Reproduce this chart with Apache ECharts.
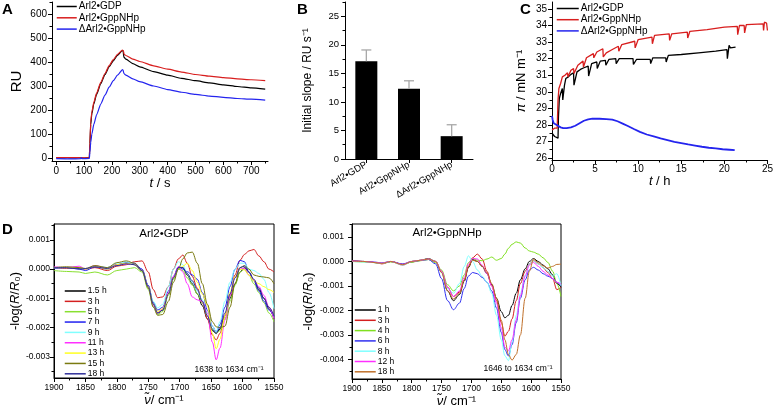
<!DOCTYPE html>
<html><head><meta charset="utf-8">
<script src="https://cdn.jsdelivr.net/npm/echarts@6/dist/echarts.min.js"></script>
<style>html,body{margin:0;padding:0;background:#fff}#c{width:776px;height:411px}</style>
</head><body><div id="c"></div>
<script>
// ---------------- DATA ----------------
const NAMES_AC = ['Arl2•GDP', 'Arl2•GppNHp', 'ΔArl2•GppNHp'];
const COLORS_AC = ['#000000', '#d81e1e', '#2424ee'];

// Panel A: RU vs t (s)
const A_GDP = [[0,1],[20,0],[40,1],[60,0],[80,1],[100,0],[119,1],[121,60],[124,140],[128,185],[135,225],[145,265],[160,310],[175,348],[190,380],[205,405],[220,428],[238,448],[240,446],[243,420],[250,412],[275,393],[300,380],[350,360],[400,345],[450,332],[500,322],[550,313],[600,305],[650,298],[700,292],[750,287]];
const A_GppNHp = [[0,2],[50,2],[100,1],[119,1],[121,65],[124,150],[128,192],[135,232],[145,270],[160,315],[175,352],[190,385],[205,410],[220,432],[238,450],[241,447],[244,432],[250,427],[275,412],[300,402],[350,384],[400,370],[450,358],[500,348],[550,341],[600,335],[650,330],[700,326],[750,322]];
const A_dGppNHp = [[0,-3],[50,-4],[88,-3],[90,2],[92,-3],[119,-2],[121,25],[124,65],[128,100],[135,140],[145,180],[160,225],[175,262],[190,295],[205,322],[220,345],[238,368],[240,366],[243,352],[250,345],[275,330],[300,318],[350,300],[400,285],[450,274],[500,265],[550,258],[600,253],[650,248],[700,245],[750,241]];
const A_xTicks = [0,100,200,300,400,500,600,700];
const A_xMinor = [50,150,250,350,450,550,650,750];
const A_yTicks = [0,100,200,300,400,500,600];
const A_yMinor = [50,150,250,350,450,550,650];

// Panel B: initial slope
const B_categories = ['Arl2•GDP', 'Arl2•GppNHp', 'ΔArl2•GppNHp'];
const B_values = [17.1, 12.3, 4.0];
const B_errors = [2.0, 1.4, 2.0];
const B_yTicks = [0,5,10,15,20,25];
const B_yMinor = [2.5,7.5,12.5,17.5,22.5,27.5];

// Panel C: surface pressure vs t (h)
const C_GDP = [[0,27.5],[0.15,27.4],[0.3,27.3],[0.5,27.25],[0.7,27.2],[0.75,28.5],[0.85,29.6],[1.0,29.9],[1.2,30.2],[1.25,29.5],[1.45,30.4],[1.6,30.8],[1.9,30.9],[2.2,31.05],[2.5,31.15],[2.55,30.4],[2.9,31.2],[3.3,31.35],[3.7,31.45],[4.2,31.55],[4.25,30.95],[4.6,31.7],[5.2,31.8],[5.25,31.4],[5.6,31.85],[6.2,31.9],[6.25,31.6],[6.6,31.95],[7.4,32.0],[7.45,31.7],[7.8,32.0],[8.5,32.0],[9.4,32.0],[9.45,31.65],[9.8,31.95],[11.4,31.95],[11.45,31.7],[11.7,32.05],[13.2,32.05],[13.25,31.8],[13.5,32.2],[15,32.25],[17,32.35],[19,32.45],[20.3,32.55],[20.35,32.0],[20.55,32.8],[20.7,32.65],[21.3,32.7]];
const C_GppNHp = [[0,27.7],[0.3,27.8],[0.6,27.8],[0.7,29.5],[0.8,30.2],[1.0,30.5],[1.2,30.9],[1.5,31.0],[1.8,31.15],[1.85,30.9],[2.2,31.3],[2.5,31.4],[2.55,31.1],[3.0,31.6],[3.6,31.85],[3.65,31.5],[4.0,32.05],[4.8,32.3],[4.85,32.05],[5.2,32.4],[5.9,32.6],[5.95,32.1],[6.3,32.35],[7.0,32.55],[7.7,32.75],[7.75,32.45],[8.1,32.85],[9.6,33.05],[9.65,32.65],[10.0,33.15],[11.6,33.3],[11.65,32.9],[11.9,33.4],[13.6,33.5],[13.65,33.1],[13.9,33.5],[15.7,33.6],[15.75,33.25],[16.0,33.65],[18,33.75],[20,33.9],[21.5,33.95],[21.55,33.45],[21.75,34.0],[22.3,34.0],[22.35,33.55],[22.55,34.05],[24.5,34.1],[24.55,33.7],[24.65,34.2],[24.9,34.15],[25,33.7]];
const C_dGppNHp = [[0,28.55],[0.08,28.3],[0.2,28.1],[0.4,28.0],[0.7,27.95],[1.0,27.85],[1.3,27.8],[1.7,27.8],[2.2,27.85],[2.7,27.95],[3.2,28.1],[3.7,28.25],[4.2,28.33],[4.7,28.38],[5.5,28.37],[6.3,28.35],[7.0,28.32],[7.6,28.22],[8.2,28.08],[8.8,27.93],[9.5,27.75],[10.2,27.58],[11,27.42],[11.8,27.3],[12.6,27.18],[13.4,27.08],[14.2,26.98],[15,26.9],[15.8,26.82],[16.6,26.75],[17.4,26.68],[18.2,26.62],[19,26.58],[19.8,26.53],[20.6,26.5],[21.2,26.47]];
const C_xTicks = [0,5,10,15,20,25];
const C_xMinor = [2.5,7.5,12.5,17.5,22.5];
const C_yTicks = [26,27,28,29,30,31,32,33,34,35];
const C_yMinor = [26.5,27.5,28.5,29.5,30.5,31.5,32.5,33.5,34.5];

// Panel D: Arl2•GDP IRRA spectra
const D_WN = [1900,1880,1860,1850,1835,1815,1800,1785,1772,1760,1750,1742,1735,1727,1718,1710,1702,1695,1688,1680,1672,1664,1656,1648,1642,1636,1628,1620,1612,1604,1597,1590,1582,1574,1566,1558,1550];
const D_names = ['1.5 h','3 h','5 h','7 h','9 h','11 h','13 h','15 h','18 h'];
const D_colors = ['#000000','#d42020','#88e030','#2020f0','#80ffff','#ff30ff','#ffff20','#7a7a10','#30309a'];
const D_1_5h = [0.00005,0.00005,0.00002,0.0,0.00008,0.00005,0.00015,0.0002,0.00015,-0.00005,-0.0006,-0.0012,-0.0015,-0.0014,-0.00085,-0.0003,0.00005,0.00005,-0.0002,-0.0005,-0.00085,-0.00125,-0.0017,-0.0021,-0.0022,-0.00205,-0.0016,-0.001,-0.0005,-0.0001,0.00005,-0.0001,-0.0004,-0.0007,-0.001,-0.00135,-0.0017];
const D_3h = [0.00005,0.00002,0.00005,0.0,0.00005,-0.00005,0.0001,0.00015,0.00025,0.00028,-0.0001,-0.0007,-0.00098,-0.00095,-0.0006,0.0,0.00035,0.00048,0.0002,-0.00025,-0.00065,-0.00115,-0.0017,-0.00225,-0.00242,-0.0022,-0.0016,-0.0009,-0.0002,0.0003,0.0005,0.00062,0.00067,0.00045,0.00025,0.0,-0.0001];
const D_5h = [-0.00005,-0.00008,-0.0001,-0.00015,-0.0001,-0.0002,-0.00005,0.0,0.00005,-0.0001,-0.0007,-0.0013,-0.00155,-0.00145,-0.0009,-0.00035,0.0,-0.00005,-0.0003,-0.00055,-0.00085,-0.00115,-0.0016,-0.00205,-0.0022,-0.0021,-0.0017,-0.0011,-0.00055,-0.0001,0.0,-0.0002,-0.0005,-0.0008,-0.00115,-0.0015,-0.0018];
const D_7h = [0.00002,0.00005,0.0,-0.00005,0.00008,0.0,0.00015,0.00022,0.0002,0.0,-0.00055,-0.00115,-0.0014,-0.0013,-0.00075,-0.00025,0.00008,0.0,-0.00009,-0.0002,-0.00035,-0.0008,-0.0014,-0.00195,-0.00214,-0.0019,-0.0013,-0.0006,0.0,0.0003,0.00025,-0.0001,-0.0004,-0.00075,-0.0011,-0.0014,-0.00163];
const D_9h = [0.00005,0.00005,0.00005,0.0,0.0001,0.00005,0.0002,0.00025,0.00015,-0.00005,-0.0006,-0.0011,-0.00133,-0.0012,-0.0006,0.0,0.00025,0.00015,-0.00015,-0.00045,-0.00075,-0.00105,-0.0015,-0.00195,-0.00214,-0.0018,-0.0011,-0.00045,0.0,0.0002,0.0002,0.0,-0.00005,-0.00015,-0.00035,-0.0008,-0.00135];
const D_11h = [0.00008,0.00005,0.0001,0.0,0.00012,0.00002,0.00015,0.00018,0.00015,-0.00005,-0.0006,-0.00125,-0.0015,-0.00135,-0.0008,-0.00025,0.00008,-0.0001,-0.0005,-0.00095,-0.00105,-0.0011,-0.0015,-0.0025,-0.0031,-0.0027,-0.00175,-0.0009,-0.0003,0.0,0.00003,-0.0002,-0.00037,-0.0006,-0.0009,-0.0013,-0.0017];
const D_13h = [0.00005,0.00005,0.00005,0.0,0.0001,0.0,0.00015,0.0002,0.00015,-0.00005,-0.0006,-0.0012,-0.00145,-0.00135,-0.00085,-0.0003,0.0,0.0001,0.0002,-0.00005,-0.00045,-0.00085,-0.00125,-0.0022,-0.00272,-0.0024,-0.0016,-0.0008,-0.00025,0.0,-0.00003,-0.0002,-0.0004,-0.0005,-0.0006,-0.0007,-0.0008];
const D_15h = [0.00005,0.00008,0.00005,0.00002,0.00012,0.00005,0.00022,0.00028,0.0002,-0.00005,-0.00065,-0.0013,-0.00158,-0.00155,-0.0011,-0.00045,0.0,0.00035,0.00055,0.00058,0.0002,-0.0005,-0.0012,-0.0018,-0.00197,-0.002,-0.00195,-0.0013,-0.0005,0.00005,0.00012,0.0,-0.0002,-0.00025,-0.00027,-0.0003,-0.0005];
const D_18h = [0.00005,0.00005,0.0,0.00002,0.00008,0.00002,0.00012,0.00018,0.00015,-0.00005,-0.0006,-0.0012,-0.0015,-0.0014,-0.00085,-0.0003,0.00005,0.00005,-0.00015,-0.0004,-0.0007,-0.0011,-0.0016,-0.00205,-0.0022,-0.002,-0.0015,-0.00085,-0.0003,0.00005,0.0001,-0.0001,-0.00035,-0.00065,-0.001,-0.0013,-0.0016];
const D_series = [D_1_5h, D_3h, D_5h, D_7h, D_9h, D_11h, D_13h, D_15h, D_18h];

// Panel E: Arl2•GppNHp IRRA spectra
const E_WN = [1900,1880,1860,1850,1835,1815,1800,1785,1772,1760,1750,1740,1730,1720,1712,1705,1698,1690,1682,1674,1666,1658,1650,1644,1638,1632,1625,1618,1610,1603,1596,1588,1580,1572,1564,1557,1550];
const E_names = ['1 h','3 h','4 h','6 h','8 h','12 h','18 h'];
const E_colors = ['#000000','#d42020','#80e020','#3030f0','#80ffff','#ff30ff','#c0702a'];
const E_1h = [0.00002,0.0,-0.00005,-0.00008,0.0,-0.00012,-0.00002,0.00005,0.00012,0.0,-0.00045,-0.0012,-0.0016,-0.00135,-0.0008,-0.00025,0.00008,0.0,-0.0002,-0.0005,-0.00095,-0.0015,-0.00205,-0.0023,-0.0022,-0.0018,-0.0013,-0.00075,-0.0003,0.0,0.00012,0.0,-0.00015,-0.0003,-0.00055,-0.0009,-0.00105];
const E_3h = [0.00003,0.0,-0.00005,-0.0001,0.0,-0.00015,0.0,0.00005,0.0001,0.0,-0.0004,-0.00105,-0.00143,-0.00125,-0.00075,-0.0002,0.00015,0.0003,0.0001,-0.0004,-0.001,-0.0016,-0.0025,-0.00305,-0.00285,-0.00235,-0.0016,-0.0009,-0.0004,-0.0001,0.00003,-0.0001,-0.00025,-0.00045,-0.0007,-0.00115,-0.00105];
const E_4h = [0.0,-0.00002,-0.00005,-0.00008,-0.00002,-0.00012,-0.00003,0.00003,0.00008,-0.00005,-0.00035,-0.00095,-0.0012,-0.001,-0.00055,-0.00005,0.00012,0.00005,0.00003,0.0001,0.00018,0.00005,0.00012,0.0003,0.00054,0.0007,0.0008,0.00075,0.00055,0.00043,0.00038,0.0003,0.00015,-0.00004,-0.0004,-0.0009,-0.00143];
const E_6h = [0.00003,0.0,-0.00003,-0.00006,0.0,-0.0001,0.0,0.00004,0.00008,-0.0001,-0.0007,-0.0016,-0.00197,-0.0017,-0.0011,-0.0006,-0.00045,-0.0005,-0.00065,-0.00085,-0.0012,-0.0019,-0.0029,-0.0036,-0.00386,-0.0034,-0.0025,-0.0015,-0.00075,-0.00035,-0.00024,-0.00035,-0.0005,-0.0006,-0.0007,-0.00085,-0.00099];
const E_8h = [0.0,-0.00002,-0.00005,-0.00008,0.0,-0.00015,0.0,0.00005,0.0001,0.0,-0.00045,-0.0011,-0.0013,-0.0009,-0.0002,0.00023,0.0,-0.00035,-0.0006,-0.00085,-0.0013,-0.0022,-0.0032,-0.00385,-0.00405,-0.0033,-0.0022,-0.0013,-0.00055,-0.0001,0.00002,-0.0001,-0.00025,-0.0004,-0.0006,-0.0005,-0.00099];
const E_12h = [0.00002,0.0,-0.00004,-0.00007,0.0,-0.00012,0.0,0.00005,0.0001,0.0,-0.0004,-0.00105,-0.00143,-0.0012,-0.00065,-0.0001,0.00012,0.0001,-0.00015,-0.0005,-0.001,-0.0017,-0.0027,-0.0035,-0.00365,-0.0032,-0.0024,-0.0014,-0.0006,-0.00015,-0.00004,-0.0002,-0.0004,-0.00055,-0.0007,-0.00085,-0.00092];
const E_18h = [0.00002,0.0,-0.00005,-0.00008,0.0,-0.00013,0.0,0.00005,0.0001,0.0,-0.00045,-0.0012,-0.00153,-0.0013,-0.00075,-0.0002,0.00005,0.0,-0.0002,-0.00045,-0.0009,-0.0015,-0.0024,-0.0032,-0.0038,-0.00403,-0.0038,-0.003,-0.0015,-0.0004,0.00009,-0.00005,-0.00018,-0.00027,-0.0002,-0.00012,-0.00011];
const E_series = [E_1h, E_3h, E_4h, E_6h, E_8h, E_12h, E_18h];

const DE_xTicks = [1550,1600,1650,1700,1750,1800,1850,1900];
const DE_xMinor = [1575,1625,1675,1725,1775,1825,1875];
const D_yTicks = [-0.003,-0.002,-0.001,0,0.001];
const D_yMinor = [-0.0035,-0.0025,-0.0015,-0.0005,0.0005,0.0015];
const E_yTicks = [-0.004,-0.003,-0.002,-0.001,0,0.001];
const E_yMinor = [-0.0045,-0.0035,-0.0025,-0.0015,-0.0005,0.0005,0.0015];

// ---------------- CHART ----------------
const FONT = '"Liberation Sans", Arial, Helvetica, sans-serif';
const xAxes = [], yAxes = [];
function valAxis(dim, gi, o) {
  const list = dim === 'x' ? xAxes : yAxes;
  const pos = dim === 'x' ? 'bottom' : 'left';
  list.push({
    type: 'value', gridIndex: gi, min: o.min, max: o.max, inverse: !!o.inverse, position: pos,
    axisLine: {show: true, onZero: false, lineStyle: {color: '#000', width: 1}},
    axisTick: {show: true, length: 4, customValues: o.ticks, lineStyle: {color: '#000', width: 1}},
    axisLabel: {show: true, customValues: o.ticks, formatter: o.fmt || (v => String(v)), fontSize: o.fs, margin: o.margin,
      color: '#000', fontFamily: FONT, hideOverlap: false},
    splitLine: {show: false},
    name: o.name, nameLocation: 'middle', nameGap: o.nameGap, nameRotate: dim === 'y' ? 90 : 0,
    nameTextStyle: {fontFamily: FONT, fontSize: o.nfs, color: '#000',
      rich: {i: {fontStyle: 'italic', fontFamily: FONT, fontSize: o.nfs, color: '#000'}}}
  });
  const idx = list.length - 1;
  list.push({
    type: 'value', gridIndex: gi, min: o.min, max: o.max, inverse: !!o.inverse, position: pos,
    axisLine: {show: false, onZero: false}, axisLabel: {show: false}, splitLine: {show: false},
    axisTick: {show: true, length: 2.5, customValues: o.minor, lineStyle: {color: '#000', width: 1}}
  });
  return idx;
}

const grids = [
  {left: 52, top: 2, width: 216, height: 159},          // A
  {left: 345, top: 2, width: 128, height: 157},         // B
  {left: 552, top: 2, width: 217, height: 158},         // C
  {left: 54, top: 224, width: 220, height: 154, show: true, borderColor: '#000', borderWidth: 1, backgroundColor: 'transparent'}, // D
  {left: 352, top: 224, width: 209, height: 155, show: true, borderColor: '#000', borderWidth: 1, backgroundColor: 'transparent'} // E
];

const Ax = valAxis('x', 0, {min: -15, max: 760, ticks: A_xTicks, minor: A_xMinor, fs: 10, margin: 5,
  name: '{i|t} / s', nameGap: 16, nfs: 13});
const Ay = valAxis('y', 0, {min: -12.5, max: 650, ticks: A_yTicks, minor: A_yMinor, fs: 10, margin: 5,
  name: 'RU', nameGap: 28, nfs: 15});
xAxes.push({
  type: 'category', gridIndex: 1, data: B_categories, position: 'bottom',
  axisLine: {show: true, lineStyle: {color: '#000'}},
  axisTick: {show: true, alignWithLabel: true, length: 4, lineStyle: {color: '#000'}},
  axisLabel: {interval: 0, rotate: 30, fontSize: 9.5, fontFamily: FONT, color: '#000', margin: 5}
});
const Bx = xAxes.length - 1;
const By = valAxis('y', 1, {min: 0, max: 27.5, ticks: B_yTicks, minor: B_yMinor, fs: 9.5, margin: 6,
  name: 'Initial slope / RU s⁻¹', nameGap: 31, nfs: 12});
const Cx = valAxis('x', 2, {min: 0, max: 25, ticks: C_xTicks, minor: C_xMinor, fs: 10, margin: 4,
  name: '{i|t} / h', nameGap: 15, nfs: 13});
const Cy = valAxis('y', 2, {min: 25.88, max: 35.42, ticks: C_yTicks, minor: C_yMinor, fs: 10, margin: 5,
  name: '{i|π} / mN m⁻¹', nameGap: 24, nfs: 13});
const Dx = valAxis('x', 3, {min: 1550, max: 1900, inverse: true, ticks: DE_xTicks, minor: DE_xMinor, fs: 8.5, margin: 5,
  name: '{i|ν̃}/ cm⁻¹', nameGap: 16, nfs: 13});
const Dy = valAxis('y', 3, {min: -0.00372, max: 0.00154, ticks: D_yTicks, minor: D_yMinor, fs: 8.5, margin: 4,
  fmt: v => v.toFixed(3), name: '-log({i|R}/{i|R}₀)', nameGap: 29, nfs: 13});
const Ex = valAxis('x', 4, {min: 1550, max: 1900, inverse: true, ticks: DE_xTicks, minor: DE_xMinor, fs: 8.5, margin: 5,
  name: '{i|ν̃}/ cm⁻¹', nameGap: 16, nfs: 13});
const Ey = valAxis('y', 4, {min: -0.0048, max: 0.00153, ticks: E_yTicks, minor: E_yMinor, fs: 8.5, margin: 8,
  fmt: v => v.toFixed(3), name: '-log({i|R}/{i|R}₀)', nameGap: 37, nfs: 13});

const series = [];
function line(name, data, xi, yi, color, width, smooth) {
  series.push({type: 'line', name, data, xAxisIndex: xi, yAxisIndex: yi, symbol: 'none', smooth: smooth,
    smoothMonotone: 'x', lineStyle: {color, width}, itemStyle: {color}, animation: false, silent: true, clip: true});
}
[A_GDP, A_GppNHp, A_dGppNHp].forEach((d, i) => line(NAMES_AC[i], d, Ax, Ay, COLORS_AC[i], 1.2, 0.2));
series.push({type: 'bar', name: 'slope', data: B_values, xAxisIndex: Bx, yAxisIndex: By, barWidth: 22,
  itemStyle: {color: '#000'}, animation: false, silent: true, z: 2});
series.push({type: 'custom', name: 'err', xAxisIndex: Bx, yAxisIndex: By, animation: false, silent: true, z: 3,
  data: B_values.map((v, i) => [i, v, v + B_errors[i]]),
  renderItem: (params, api) => {
    const lo = api.coord([api.value(0), api.value(1)]);
    const hi = api.coord([api.value(0), api.value(2)]);
    const st = {stroke: '#a8a8a8', lineWidth: 1.3};
    return {type: 'group', children: [
      {type: 'line', shape: {x1: lo[0], y1: lo[1], x2: hi[0], y2: hi[1]}, style: st},
      {type: 'line', shape: {x1: hi[0] - 5, y1: hi[1], x2: hi[0] + 5, y2: hi[1]}, style: st}
    ]};
  }});
[C_GDP, C_GppNHp, C_dGppNHp].forEach((d, i) => line(NAMES_AC[i], d, Cx, Cy, COLORS_AC[i], i === 2 ? 1.8 : 1.3, false));
D_series.forEach((ys, i) => line(D_names[i], D_WN.map((w, k) => [w, ys[k]]), Dx, Dy, D_colors[i], 1, 0.35));
E_series.forEach((ys, i) => line(E_names[i] + '\u200b', E_WN.map((w, k) => [w, ys[k]]), Ex, Ey, E_colors[i], 1, 0.35));

function legend(left, top, names, fs, ih, gap, iw) {
  return {left, top, orient: 'vertical', data: names, padding: 0, itemWidth: iw, itemHeight: ih, itemGap: gap,
    selectedMode: false,
    itemStyle: {color: 'rgba(0,0,0,0)', borderWidth: 0, opacity: 0},
    lineStyle: {width: 1.5},
    textStyle: {fontSize: fs, fontFamily: FONT, color: '#000', lineHeight: ih, padding: [0, 0, 0, -3]}};
}

const txt = (x, y, text, font, extra) => ({type: 'text', x, y, silent: true, style: Object.assign({text, font, fill: '#000'}, extra || {})});

const option = {
  animation: false,
  backgroundColor: '#fff',
  grid: grids,
  xAxis: xAxes,
  yAxis: yAxes,
  series,
  legend: [
    legend(56, 1, NAMES_AC, 10, 11, 0.3, 20),
    legend(556, 3, NAMES_AC, 10, 11, 0.2, 22),
    legend(64, 286, D_names, 8.5, 10, 0.35, 21),
    legend(354, 305, E_names.map(n => n + '\u200b'), 8.5, 10, 0.3, 21)
  ],
  graphic: [
    txt(2, 2, 'A', 'bold 15px ' + FONT),
    txt(297, 2, 'B', 'bold 15px ' + FONT),
    txt(520, 2, 'C', 'bold 15px ' + FONT),
    txt(2, 222, 'D', 'bold 15px ' + FONT),
    txt(290, 222, 'E', 'bold 15px ' + FONT),
    txt(164, 234, 'Arl2•GDP', '11.5px ' + FONT, {align: 'center', verticalAlign: 'middle'}),
    txt(447, 233, 'Arl2•GppNHp', '11.5px ' + FONT, {align: 'center', verticalAlign: 'middle'}),
    txt(229, 370, '1638 to 1634 cm⁻¹', '8.5px ' + FONT, {align: 'center', verticalAlign: 'middle'}),
    txt(518, 369, '1646 to 1634 cm⁻¹', '8.5px ' + FONT, {align: 'center', verticalAlign: 'middle'})
  ]
};
const chart = echarts.init(document.getElementById('c'), null, {renderer: 'canvas'});
chart.setOption(option);
</script></body></html>
